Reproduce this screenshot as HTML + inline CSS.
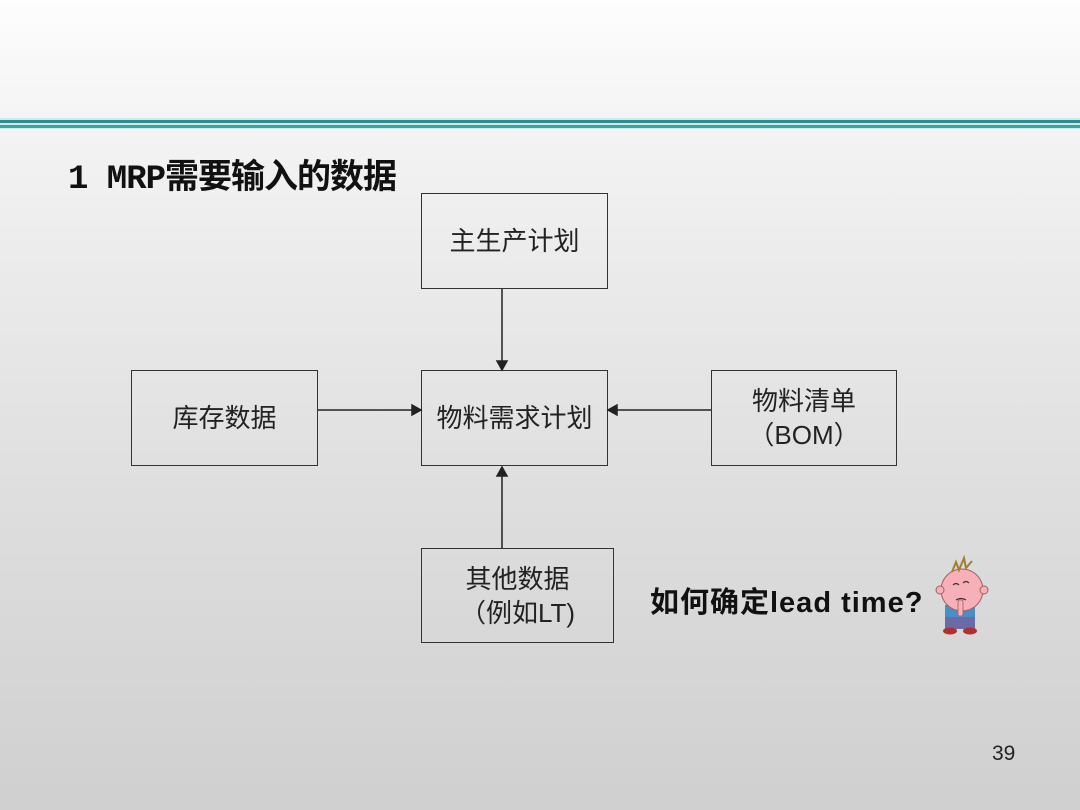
<!DOCTYPE html>
<html><head><meta charset="utf-8"><style>
html,body{margin:0;padding:0}
body{width:1080px;height:810px;position:relative;overflow:hidden;
background:linear-gradient(to bottom,#fdfdfd 0px,#f4f4f5 120px,#ececec 250px,#dedede 500px,#d0d0d0 800px);
font-family:"Liberation Sans","Noto Sans CJK SC",sans-serif;color:#111}
.l{position:absolute;left:0;width:1080px}
.b{position:absolute;border:1.5px solid #333;box-sizing:border-box;display:flex;align-items:center;justify-content:center;text-align:center;font-size:26px;line-height:34px;color:#222}
.t{position:absolute}
</style></head><body>
<div class="l" style="top:118px;height:2px;background:#c8ecec"></div>
<div class="l" style="top:120px;height:3px;background:#2f8a8e"></div>
<div class="l" style="top:123px;height:2px;background:#c6eaea"></div>
<div class="l" style="top:125px;height:3px;background:#3aa2a5"></div>
<div class="l" style="top:128px;height:1px;background:#c8ecec"></div>
<div class="t" style="left:68px;top:149px;font-size:34px;font-weight:bold;font-family:'Liberation Mono','Noto Sans CJK SC',monospace;letter-spacing:-1px;white-space:nowrap">1 MRP需要输入的数据</div>
<div class="b" style="left:421px;top:193px;width:187px;height:96px">主生产计划</div>
<div class="b" style="left:131px;top:370px;width:187px;height:96px">库存数据</div>
<div class="b" style="left:421px;top:370px;width:187px;height:96px">物料需求计划</div>
<div class="b" style="left:711px;top:370px;width:186px;height:96px">物料清单<br>（BOM）</div>
<div class="b" style="left:421px;top:548px;width:193px;height:95px">其他数据<br>（例如LT)</div>
<svg width="1080" height="810" style="position:absolute;left:0;top:0">
<g stroke="#222" stroke-width="1.5" fill="#222">
<line x1="502" y1="289" x2="502" y2="362"/><polygon points="497,361 507,361 502,370"/>
<line x1="318" y1="410" x2="413" y2="410"/><polygon points="412,405 412,415 421,410"/>
<line x1="711" y1="410" x2="616" y2="410"/><polygon points="617,405 617,415 608,410"/>
<line x1="502" y1="548" x2="502" y2="475"/><polygon points="497,476 507,476 502,467"/>
</g>
<g>
<rect x="945" y="605" width="30" height="14" fill="#4a8ec8"/>
<rect x="945" y="617" width="30" height="12" fill="#6a6aa8"/>
<ellipse cx="950" cy="631" rx="7" ry="3.5" fill="#b03030"/><ellipse cx="970" cy="631" rx="7" ry="3.5" fill="#b03030"/>
<circle cx="962" cy="590" r="21" fill="#f7b0b8" stroke="#a06060" stroke-width="1"/>
<circle cx="940" cy="590" r="4" fill="#f7b0b8" stroke="#a06060"/><circle cx="984" cy="590" r="4" fill="#f7b0b8" stroke="#a06060"/>
<path d="M952 572 l4 -10 l3 8 l5 -12 l2 10 l6 -7" stroke="#a08030" fill="none" stroke-width="2"/>
<path d="M953 585 q3 -3 6 0 M963 583 q3 -3 6 0 M956 600 q5 -3 10 0" stroke="#333" fill="none" stroke-width="1.2"/>
<rect x="958" y="600" width="5" height="16" rx="2" fill="#f7b0b8" stroke="#a06060" stroke-width="0.8"/>
</g>
</svg>
<div class="t" style="left:650px;top:579px;font-size:29px;font-weight:bold;letter-spacing:1px;white-space:nowrap">如何确定lead time?</div>
<div class="t" style="left:992px;top:742px;font-size:21px;color:#222">39</div>
</body></html>
